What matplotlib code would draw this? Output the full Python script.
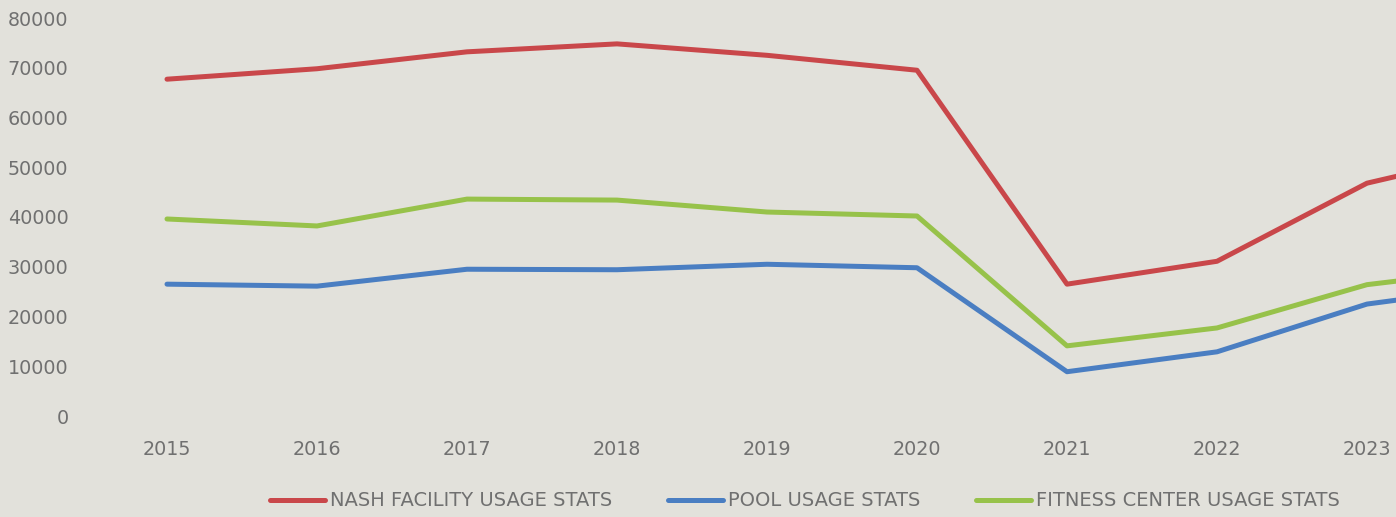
import matplotlib
matplotlib.use("Agg")
import matplotlib.pyplot as plt

years = ["2015", "2016", "2017", "2018", "2019", "2020", "2021", "2022", "2023", "2024"]
nash_facility = [67700, 69800, 73200, 74800, 72500, 69500, 26500, 31100, 46800, 53800]
pool = [26500, 26100, 29500, 29400, 30500, 29800, 8900, 12900, 22500, 26500]
fitness_center = [39600, 38200, 43600, 43400, 41000, 40200, 14100, 17700, 26400, 30000]
series_labels = ["NASH FACILITY USAGE STATS", "POOL USAGE STATS", "FITNESS CENTER USAGE STATS"]
y_ticks = [0, 10000, 20000, 30000, 40000, 50000, 60000, 70000, 80000]

bg = "#E2E1DB"
text_col = "#707070"
colors = ["#C9474A", "#4A7EC2", "#97C24A"]

W, H = 1396, 517
fig = plt.figure(figsize=(W / 100, H / 100), dpi=100, facecolor=bg)
ax = fig.add_axes([92 / W, 1 - 416 / H, 1500 / W, (416 - 18) / H])
ax.set_facecolor(bg)

x = list(range(len(years)))
handles = []
for vals, c, lab in zip([nash_facility, pool, fitness_center], colors, series_labels):
    h, = ax.plot(x, vals, color=c, lw=3.6, solid_joinstyle="round", solid_capstyle="round", label=lab)
    handles.append(h)

ax.set_xlim(-0.5, len(years) - 0.5)
ax.set_ylim(0, 80000)
ax.set_yticks(y_ticks)
ax.set_yticklabels([str(v) for v in y_ticks])
ax.set_xticks(x)
ax.set_xticklabels(years)
for s in ax.spines.values():
    s.set_visible(False)
ax.tick_params(axis="both", length=0, colors=text_col, labelsize=13.8)
ax.tick_params(axis="y", pad=17)
ax.tick_params(axis="x", pad=17)
for lbl in ax.get_xticklabels() + ax.get_yticklabels():
    lbl.set_family(["DejaVu Sans"])

leg = fig.legend(handles=handles, loc="center", bbox_to_anchor=(805 / W, 1 - 501 / H),
                 ncol=3, frameon=False, handlelength=2.8, handletextpad=0.25,
                 columnspacing=2.9, prop={"family": ["DejaVu Sans"], "size": 14})
for t in leg.get_texts():
    t.set_color(text_col)

fig.savefig("out.png", dpi=100, facecolor=bg)
